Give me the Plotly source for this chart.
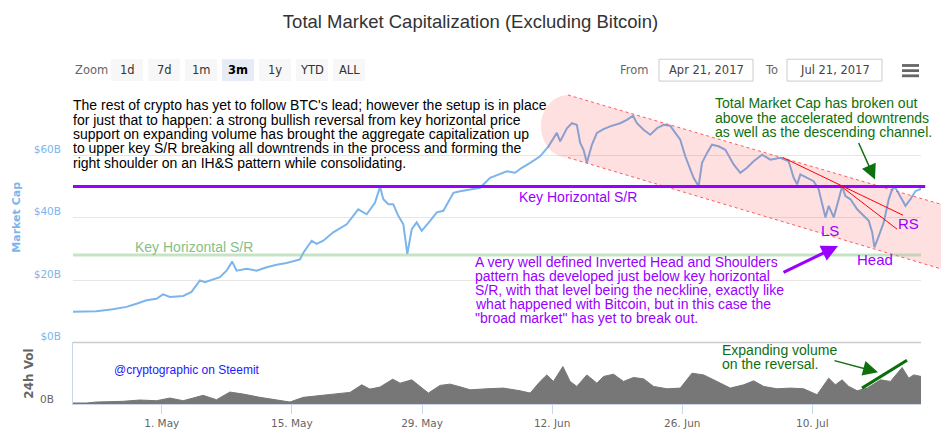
import pandas as pd
import plotly.graph_objects as go

# ---------------- data ----------------
START = pd.Timestamp("2017-04-21")

# market cap (excluding BTC), $B ; days counted from 2017-04-21 00:00
cap_days = [0.39, 2.97, 4.73, 6.20, 7.28, 8.36, 9.43, 10.14, 10.87, 12.30,
            13.20, 14.10, 14.64, 15.18, 16.25, 16.97, 17.58, 18.05, 19.13, 20.20,
            21.28, 22.36, 23.43, 24.87, 25.22, 26.13, 26.66, 27.38, 28.45, 29.90,
            31.14, 32.05, 32.94, 33.48, 33.84, 34.38, 34.91, 35.45, 35.99, 36.42,
            36.90, 37.43, 37.97, 38.87, 39.59, 40.30, 41.38, 42.10, 43.17, 44.25,
            45.33, 46.40, 47.13, 48.02, 48.74, 49.64, 50.71, 51.61, 52.51, 52.87,
            53.59, 54.13, 54.66, 55.02, 55.38, 55.74, 56.28, 56.82, 57.53, 58.25,
            59.33, 60.05, 60.70, 61.13, 61.84, 62.56, 63.28, 63.99, 64.71, 65.25,
            65.79, 66.33, 66.87, 67.22, 67.76, 68.13, 68.67, 69.20, 69.91, 70.64,
            71.53, 72.25, 72.97, 73.68, 74.59, 75.48, 76.56, 77.45, 77.99, 78.36,
            78.71, 79.43, 80.14, 80.68, 81.05, 81.41, 81.76, 82.30, 82.84, 83.20,
            83.56, 84.10, 84.82, 85.53, 86.07, 86.44, 86.68, 87.15, 87.68, 88.22,
            88.58, 88.94, 89.48, 90.02, 90.55, 91.09, 91.71]
cap_values = [9.8, 10.0, 10.6, 11.4, 12.4, 13.5, 14.0, 15.4, 14.6, 14.9,
              16.2, 19.9, 19.3, 19.9, 20.9, 23.0, 25.9, 23.0, 23.6, 23.0,
              24.1, 24.9, 25.5, 26.6, 28.7, 32.6, 31.6, 32.6, 35.3, 37.9,
              42.7, 41.1, 44.8, 49.9, 45.9, 44.3, 44.3, 40.6, 37.9, 28.4,
              36.3, 38.5, 35.8, 39.0, 41.7, 42.2, 48.0, 48.5, 49.0, 49.6,
              52.8, 53.9, 54.9, 54.4, 56.0, 57.6, 59.7, 62.9, 67.2, 64.5,
              68.7, 70.3, 69.8, 64.0, 61.8, 57.6, 63.4, 67.2, 68.4, 69.3,
              70.3, 71.4, 72.7, 70.3, 68.2, 66.6, 68.7, 69.8, 69.5, 67.2,
              65.0, 59.7, 55.5, 52.8, 50.1, 57.6, 60.8, 63.4, 62.9, 61.8,
              57.1, 54.4, 56.0, 58.1, 60.2, 58.6, 59.2, 58.1, 52.8, 50.7,
              53.9, 52.8, 51.7, 49.1, 44.8, 40.1, 43.8, 40.1, 45.9, 50.1,
              46.9, 45.9, 42.7, 40.6, 39.0, 35.3, 30.5, 34.2, 38.5, 45.9,
              49.1, 49.6, 46.9, 43.8, 45.9, 48.5, 49.3]

# 24h volume, $B
vol_days = [0.39, 1.89, 2.97, 5.84, 7.64, 9.43, 10.87, 12.30, 14.45, 15.89,
            17.33, 18.76, 20.56, 22.36, 23.79, 25.22, 27.02, 28.45, 30.25, 31.51,
            32.40, 33.48, 34.85, 35.64, 36.90, 37.79, 38.69, 39.94, 41.02, 42.10,
            43.17, 44.97, 46.76, 48.56, 49.64, 50.71, 51.43, 52.14, 53.16, 53.94,
            54.66, 55.74, 56.82, 57.53, 58.61, 59.68, 60.76, 61.84, 62.91, 64.36,
            65.79, 67.05, 68.30, 69.74, 71.17, 72.61, 73.68, 74.76, 76.20, 77.64,
            79.07, 80.51, 81.76, 82.48, 83.20, 83.92, 84.82, 85.90, 87.33, 88.40,
            89.66, 90.37, 90.91, 91.71]
vol_values = [0.10, 0.10, 0.20, 0.27, 0.40, 0.33, 0.60, 0.33, 0.87, 0.43,
              1.20, 1.00, 0.67, 0.43, 0.20, 0.67, 0.87, 1.00, 1.17, 1.93,
              1.50, 1.70, 2.50, 2.10, 2.43, 1.77, 1.10, 1.87, 2.00, 1.73,
              1.43, 1.53, 1.60, 1.33, 1.10, 2.27, 2.93, 2.27, 3.77, 2.27,
              1.77, 2.93, 2.10, 2.77, 3.00, 2.27, 2.67, 2.53, 1.77, 1.53,
              1.60, 3.10, 2.93, 2.27, 1.60, 1.93, 2.33, 1.77, 1.53, 1.60,
              1.53, 0.93, 2.60, 1.93, 2.43, 1.77, 1.33, 1.60, 2.43, 2.27,
              3.67, 2.60, 2.93, 2.77]

tick_dates = ["2017-05-01", "2017-05-15", "2017-05-29", "2017-06-12", "2017-06-26", "2017-07-10"]
tick_labels = ["1. May", "15. May", "29. May", "12. Jun", "26. Jun", "10. Jul"]
cap_tick_vals = [0, 20, 40, 60, 80]
cap_tick_text = ["$0B", "$20B", "$40B", "$60B", ""]
vol_tick_vals = [0]
vol_tick_text = ["0B"]
key_levels = [50, 28]   # key horizontal S/R levels, $B

zoom_buttons = ["1d", "7d", "1m", "3m", "1y", "YTD", "ALL"]
selected_button = "3m"

# ---------------- figure ----------------
W, H = 941, 441
L, R, T, B = 73, 20, 93, 35
PW, PH = W - L - R, H - T - B
VOL_TOP = 344


def PX(x):
    return (x - L) / PW


def PY(y):
    return (H - B - y) / PH


cap_dates = START + pd.to_timedelta(cap_days, unit="D")
vol_dates = START + pd.to_timedelta(vol_days, unit="D")
x_range = [START + pd.Timedelta(days=0.45), START + pd.Timedelta(days=91.69)]

split = PY(VOL_TOP)

fig = go.Figure()
fig.add_trace(go.Scatter(x=cap_dates, y=cap_values, mode="lines",
                         line=dict(color="#7cb5ec", width=2), yaxis="y",
                         hoverinfo="skip", showlegend=False))
fig.add_trace(go.Scatter(x=vol_dates, y=vol_values, mode="lines",
                         line=dict(color="#777777", width=1), fill="tozeroy",
                         fillcolor="#777777", yaxis="y2",
                         hoverinfo="skip", showlegend=False))

UI = "DejaVu Sans, Verdana, sans-serif"
TXT = "Liberation Sans, Arial, sans-serif"
PURPLE = "#9900ff"
GREEN = "#0e700e"

shapes = []
ann = []

# descending channel (pink band with rounded left end)
cap = [(568, 158), (553.1, 158), (541, 143.9), (541, 126.5), (541, 109.1), (553.1, 95), (568, 95)]
pts = [(PX(a), PY(b)) for a, b in cap]
path = "M{},{} C{},{} {},{} {},{} C{},{} {},{} {},{} L{},{} L{},{} Z".format(
    pts[0][0], pts[0][1], pts[1][0], pts[1][1], pts[2][0], pts[2][1], pts[3][0], pts[3][1],
    pts[4][0], pts[4][1], pts[5][0], pts[5][1], pts[6][0], pts[6][1],
    PX(941), PY(205), PX(941), PY(270))
shapes.append(dict(type="path", path=path, xref="paper", yref="paper",
                   fillcolor="rgba(255,0,0,0.12)", line=dict(width=0), layer="above"))
for (x0, y0, x1, y1) in [(568, 95, 941, 205), (568, 158, 941, 270)]:
    shapes.append(dict(type="line", xref="paper", yref="paper",
                       x0=PX(x0), y0=PY(y0), x1=PX(x1), y1=PY(y1),
                       line=dict(color="#ff5a5a", width=1, dash="dot"), layer="above"))

# key horizontal levels
shapes.append(dict(type="line", xref="paper", yref="y", x0=0, x1=1,
                   y0=key_levels[1], y1=key_levels[1],
                   line=dict(color="rgba(140,200,140,0.5)", width=3), layer="above"))
shapes.append(dict(type="line", xref="paper", yref="y", x0=0, x1=1.005,
                   y0=key_levels[0], y1=key_levels[0],
                   line=dict(color=PURPLE, width=3), layer="above"))

# red downtrend lines
for (x0, y0, x1, y1) in [(783, 158, 903, 216), (840, 186, 897, 230)]:
    shapes.append(dict(type="line", xref="paper", yref="paper",
                       x0=PX(x0), y0=PY(y0), x1=PX(x1), y1=PY(y1),
                       line=dict(color="#ff0000", width=1), layer="above"))

# pane separator
shapes.append(dict(type="line", xref="paper", yref="paper", x0=0, x1=1,
                   y0=split, y1=split, line=dict(color="#cccccc", width=1.5), layer="above"))

# thick green volume trend line
shapes.append(dict(type="line", xref="paper", yref="paper",
                   x0=PX(862), y0=PY(390), x1=PX(907), y1=PY(362),
                   line=dict(color="#0a6e0a", width=3), layer="above"))

# range selector look-alike
ann.append(dict(text="Zoom", x=PX(73), y=PY(70), xanchor="left", yanchor="middle",
                font=dict(family=UI, size=11.5, color="#666666")))
bx = 111
for lab in zoom_buttons:
    sel = lab == selected_button
    shapes.append(dict(type="rect", xref="paper", yref="paper",
                       x0=PX(bx), x1=PX(bx + 32), y0=PY(81), y1=PY(59),
                       fillcolor="#e6ebf5" if sel else "#f7f7f7", line=dict(width=0)))
    ann.append(dict(text="<b>%s</b>" % lab if sel else lab, x=PX(bx + 16), y=PY(70),
                    xanchor="center", yanchor="middle",
                    font=dict(family=UI, size=11.5, color="#000000" if sel else "#333333")))
    bx += 37

for lab, lx, bx0, bx1, val in [("From", 651, 659, 753, "Apr 21, 2017"),
                               ("To", 780, 787, 882, "Jul 21, 2017")]:
    ann.append(dict(text=lab, x=PX(lx), y=PY(70), xanchor="right", yanchor="middle",
                    font=dict(family=UI, size=11.5, color="#666666")))
    shapes.append(dict(type="rect", xref="paper", yref="paper",
                       x0=PX(bx0), x1=PX(bx1), y0=PY(81), y1=PY(59),
                       fillcolor="white", line=dict(color="#cccccc", width=1)))
    ann.append(dict(text=val, x=PX((bx0 + bx1) / 2), y=PY(70), xanchor="center", yanchor="middle",
                    font=dict(family=UI, size=11.5, color="#444444")))

for yy in (65.3, 70.5, 75.7):
    shapes.append(dict(type="rect", xref="paper", yref="paper",
                       x0=PX(902), x1=PX(919), y0=PY(yy + 1.4), y1=PY(yy - 1.4),
                       fillcolor="#666666", line=dict(width=0)))

# axis titles
ann.append(dict(text="<b>Market Cap</b>", x=PX(17), y=PY(218.5), textangle=-90,
                xanchor="center", yanchor="middle",
                font=dict(family=UI, size=11, color="#7cb5ec")))
ann.append(dict(text="<b>24h Vol</b>", x=PX(29.5), y=PY(376), textangle=-90,
                xanchor="center", yanchor="middle",
                font=dict(family=UI, size=12, color="#666666")))


def text_lines(lines, x, y0, dy, color, size=14):
    for i, s in enumerate(lines):
        ann.append(dict(text=s, x=PX(x), y=PY(y0 + i * dy), xanchor="left", yanchor="middle",
                        font=dict(family=TXT, size=size, color=color)))


text_lines(["The rest of crypto has yet to follow BTC's lead; however the setup is in place",
            "for just that to happen: a strong bullish reversal from key horizontal price",
            "support on expanding volume has brought the aggregate capitalization up",
            "to upper key S/R breaking all downtrends in the process and forming the",
            "right shoulder on an IH&S pattern while consolidating."],
           71, 105.5, 14.4, "#000000")
text_lines(["Total Market Cap has broken out",
            "above the accelerated downtrends",
            "as well as the descending channel."],
           713, 103.5, 14.3, GREEN)
text_lines(["A very well defined Inverted Head and Shoulders",
            "pattern has developed just below key horizontal",
            "S/R, with that level being the neckline, exactly like",
            "what happened with Bitcoin, but in this case the",
            "\"broad market\" has yet to break out."],
           473, 263.5, 14.1, PURPLE)
text_lines(["Expanding volume", "on the reversal."], 720, 352, 13.6, GREEN)
text_lines(["Key Horizontal S/R"], 517, 197.5, 0, PURPLE)
text_lines(["Key Horizontal S/R"], 133, 247.5, 0, "#86bf86")
text_lines(["@cryptographic on Steemit"], 112, 372, 0, "#1a1aff", size=12)

for s, cx, cy in [("LS", 830, 231), ("RS", 908.5, 224), ("Head", 875, 261)]:
    ann.append(dict(text=s, x=PX(cx), y=PY(cy), xanchor="center", yanchor="middle",
                    font=dict(family=TXT, size=15, color=PURPLE)))

# arrows (tip -> tail offset in px)
for tip, tail, color, w, sz in [((838, 247), (782, 274), PURPLE, 3, 1.1),
                                ((875, 180), (858, 142), GREEN, 1.5, 2.0),
                                ((878, 374), (833, 362), GREEN, 1.5, 2.0)]:
    ann.append(dict(text="", x=PX(tip[0]), y=PY(tip[1]), showarrow=True,
                    ax=tail[0] - tip[0], ay=tail[1] - tip[1],
                    arrowhead=2, arrowsize=sz, arrowwidth=w, arrowcolor=color))

for a in ann:
    a.setdefault("xref", "paper")
    a.setdefault("yref", "paper")
    a.setdefault("showarrow", False)

fig.update_layout(
    width=W, height=H,
    margin=dict(l=L, r=R, t=T, b=B, pad=0),
    paper_bgcolor="white", plot_bgcolor="white",
    title=dict(text="Total Market Capitalization (Excluding Bitcoin)",
               x=0.5, xanchor="center", y=(H - 22) / H, yanchor="middle",
               font=dict(family=TXT, size=18.5, color="#333333")),
    xaxis=dict(domain=[0, 1], anchor="y2", range=x_range, type="date",
               tickvals=tick_dates, ticktext=tick_labels, ticks="outside", ticklen=9,
               tickcolor="#ccd6eb", showline=True, linecolor="#ccd6eb", linewidth=1,
               showgrid=False, zeroline=False,
               tickfont=dict(family=UI, size=10.5, color="#666666")),
    yaxis=dict(domain=[split, 1], anchor="x", range=[0, 80], tickvals=cap_tick_vals,
               ticktext=cap_tick_text, showgrid=True, gridcolor="#e6e6e6", gridwidth=1,
               zeroline=False, showline=False, ticks="",
               ticklabelshift=-6, ticklabelstandoff=11,
               tickfont=dict(family=UI, size=10.5, color="#7cb5ec")),
    yaxis2=dict(domain=[0, split], anchor="x", range=[0, 6.2], tickvals=vol_tick_vals,
                ticktext=vol_tick_text, showgrid=False, zeroline=False, showline=True,
                linecolor="#ccd6eb", ticks="", ticklabelshift=-5, ticklabelstandoff=16,
                tickfont=dict(family=UI, size=10.5, color="#666666")),
    shapes=shapes, annotations=ann, showlegend=False,
)

fig.write_html("out.html", config={"displayModeBar": False},
               post_script="document.body.style.margin='0';document.body.style.padding='0';")
